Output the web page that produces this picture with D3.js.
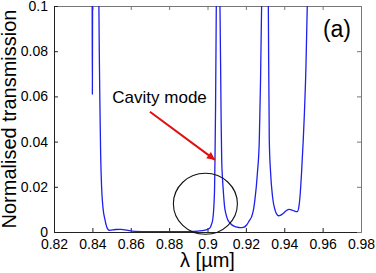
<!DOCTYPE html>
<html>
<head>
<meta charset="utf-8">
<script src="https://cdn.jsdelivr.net/npm/d3@7"></script>
<style>
  body { margin: 0; background: #fff; }
  text { font-family: "Liberation Sans", Arial, sans-serif; }
</style>
</head>
<body>
<svg id="chart" width="376" height="273"></svg>
<script>
// wavelength (um) and transmission
var lambda = [
    0.8398, 0.8399, 0.8400, 0.8401, 0.8402, 0.8420, 0.8434, 0.8436, 0.8439, 0.8443,
    0.8448, 0.8455, 0.8466, 0.8475, 0.8483, 0.8490, 0.8520, 0.8550, 0.8580, 0.8620,
    0.8700, 0.8800, 0.8900, 0.8950, 0.8987, 0.9000, 0.9013, 0.9020, 0.9027, 0.9031,
    0.9034, 0.9037, 0.9039, 0.9042, 0.9045, 0.9048, 0.9054, 0.9061, 0.9065, 0.9068,
    0.9071, 0.9074, 0.9078, 0.9082, 0.9089, 0.9096, 0.9106, 0.9117, 0.9135, 0.9152,
    0.9169, 0.9186, 0.9204, 0.9218, 0.9230, 0.9240, 0.9247, 0.9260, 0.9270, 0.9276,
    0.9282, 0.9297, 0.9317, 0.9322, 0.9329, 0.9339, 0.9352, 0.9360, 0.9369, 0.9382,
    0.9395, 0.9410, 0.9426, 0.9440, 0.9452, 0.9468, 0.9476, 0.9482, 0.9490, 0.9499,
    0.9513, 0.9520, 0.9540
];
var transmission = [
    0.1300, 0.1000, 0.0610, 0.1000, 0.1300, 0.2000, 0.1000, 0.0800, 0.0580, 0.0350,
    0.0200, 0.0110, 0.0053, 0.0022, 0.0010, 0.0007, 0.0011, 0.0012, 0.0008, 0.0003,
    0.0001, 0.0001, 0.0002, 0.0004, 0.0008, 0.0012, 0.0018, 0.0032, 0.0053, 0.0085,
    0.0127, 0.0200, 0.0320, 0.0550, 0.0900, 0.1300, 0.3000, 0.1300, 0.1000, 0.0761,
    0.0500, 0.0320, 0.0240, 0.0186, 0.0112, 0.0080, 0.0053, 0.0040, 0.0027, 0.0022,
    0.0019, 0.0020, 0.0031, 0.0050, 0.0068, 0.0100, 0.0142, 0.0260, 0.0407, 0.0650,
    0.1000, 0.3000, 0.1000, 0.0407, 0.0260, 0.0156, 0.0097, 0.0080, 0.0072, 0.0075,
    0.0083, 0.0094, 0.0100, 0.0097, 0.0093, 0.0090, 0.0110, 0.0156, 0.0260, 0.0407,
    0.0730, 0.1000, 0.2000
];

var xTicks = [0.82, 0.84, 0.86, 0.88, 0.9, 0.92, 0.94, 0.96, 0.98];
var yTicks = [0, 0.02, 0.04, 0.06, 0.08, 0.1];

// annotation: label, arrow (tail -> head) and circle, in data units
var noteText = "Cavity mode";
var notePos = [0.8504, 0.0570];
var arrowFrom = [0.8700, 0.0532];
var arrowTo = [0.9039, 0.0319];
var ringCentre = [0.8989, 0.01248];

var margin = {top: 6, right: 15, bottom: 41, left: 54};
var width = 376 - margin.left - margin.right;
var height = 273 - margin.top - margin.bottom;

var svg = d3.select("#chart");
var g = svg.append("g").attr("transform", "translate(" + margin.left + "," + margin.top + ")");

var x = d3.scaleLinear().domain([0.82, 0.98]).range([0, width]);
var y = d3.scaleLinear().domain([0, 0.1]).range([height, 0]);

g.append("defs").append("clipPath").attr("id", "clip")
    .append("rect").attr("width", width).attr("height", height);

// ticks inside on all four sides, matlab style
var tickLen = 4;
function fmt(d) { return d === 0 ? "0" : String(d); }

g.append("g").attr("transform", "translate(0," + height + ")")
    .call(d3.axisBottom(x).tickValues(xTicks).tickSizeInner(-tickLen).tickSizeOuter(0).tickPadding(7).tickFormat(fmt))
    .call(function (a) {
        a.select(".domain").attr("stroke", "#222");
        a.selectAll(".tick line").attr("stroke", "#222");
        a.selectAll("text").attr("font-size", 14).attr("fill", "#000");
    });
g.append("g")
    .call(d3.axisTop(x).tickValues(xTicks).tickSizeInner(-tickLen).tickSizeOuter(0).tickFormat(""))
    .call(function (a) {
        a.select(".domain").attr("stroke", "#777");
        a.selectAll(".tick line").attr("stroke", "#777");
    });
g.append("g")
    .call(d3.axisLeft(y).tickValues(yTicks).tickSizeInner(-tickLen).tickSizeOuter(0).tickPadding(6).tickFormat(fmt))
    .call(function (a) {
        a.select(".domain").attr("stroke", "#222");
        a.selectAll(".tick line").attr("stroke", "#222");
        a.selectAll("text").attr("font-size", 14).attr("fill", "#000");
    });
g.append("g").attr("transform", "translate(" + width + ",0)")
    .call(d3.axisRight(y).tickValues(yTicks).tickSizeInner(-tickLen).tickSizeOuter(0).tickFormat(""))
    .call(function (a) {
        a.select(".domain").attr("stroke", "#777");
        a.selectAll(".tick line").attr("stroke", "#777");
    });

var pts = d3.zip(lambda, transmission);
var line = d3.line()
    .x(function (d) { return x(d[0]); })
    .y(function (d) { return y(d[1]); })
    .curve(d3.curveMonotoneX);

g.append("path").datum(pts)
    .attr("clip-path", "url(#clip)")
    .attr("fill", "none")
    .attr("stroke", "#1f1fee")
    .attr("stroke-width", 1.3)
    .attr("d", line);

// circle round the cavity mode foot
g.append("ellipse")
    .attr("cx", x(ringCentre[0])).attr("cy", y(ringCentre[1]))
    .attr("rx", 32).attr("ry", 30.5)
    .attr("fill", "none").attr("stroke", "#111").attr("stroke-width", 1.1);

// red arrow
g.append("defs").append("marker").attr("id", "head")
    .attr("viewBox", "0 0 10 10").attr("refX", 10).attr("refY", 5)
    .attr("markerWidth", 5).attr("markerHeight", 4).attr("orient", "auto")
    .attr("markerUnits", "strokeWidth")
    .append("path").attr("d", "M0,0 L10,5 L0,10 z").attr("fill", "#e01010");
g.append("line")
    .attr("x1", x(arrowFrom[0])).attr("y1", y(arrowFrom[1]))
    .attr("x2", x(arrowTo[0])).attr("y2", y(arrowTo[1]))
    .attr("stroke", "#e01010").attr("stroke-width", 2)
    .attr("marker-end", "url(#head)");

g.append("text")
    .attr("x", x(notePos[0])).attr("y", y(notePos[1]))
    .attr("font-size", 17).attr("fill", "#000")
    .text(noteText);

g.append("text")
    .attr("x", width - 10).attr("y", 31)
    .attr("text-anchor", "end").attr("font-size", 23).attr("fill", "#000")
    .text("(a)");

// axis titles
svg.append("text")
    .attr("x", margin.left + width / 2).attr("y", 266.5)
    .attr("text-anchor", "middle").attr("font-size", 20)
    .text("λ [µm]");
svg.append("text")
    .attr("transform", "translate(15.5," + (margin.top + height / 2) + ") rotate(-90)")
    .attr("text-anchor", "middle").attr("font-size", 20)
    .text("Normalised transmission");
</script>
</body>
</html>
